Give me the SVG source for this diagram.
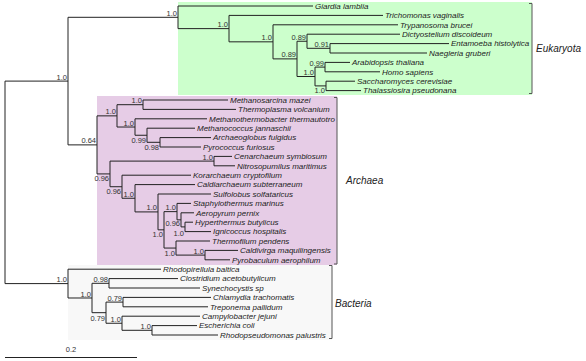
<svg xmlns="http://www.w3.org/2000/svg" width="586" height="361" viewBox="0 0 586 361">
<style>
.leaf{font-family:"Liberation Sans",Arial,sans-serif;font-size:8px;font-style:italic;fill:#222}
.sup{font-family:"Liberation Sans",Arial,sans-serif;font-size:7.5px;fill:#333;text-anchor:end}
.grp{font-family:"Liberation Sans",Arial,sans-serif;font-size:10px;font-style:italic;fill:#222}
.br{fill:none;stroke:#222;stroke-width:1}
.brk{fill:none;stroke:#555;stroke-width:1}
</style>
<rect width="586" height="361" fill="#fff"/>
<g id="clade-eukaryota">
<rect x="178" y="2" width="354" height="93" fill="#ccffcc"/>
<path class="brk" d="M529 3.5H532V93.5H529"/>
<text class="grp" x="536" y="52">Eukaryota</text>
</g>
<g id="clade-archaea">
<rect x="97" y="96" width="240" height="169" fill="#e6cce6"/>
<path class="brk" d="M334 97.5H337V264H334"/>
<text class="grp" x="346" y="184">Archaea</text>
</g>
<g id="clade-bacteria">
<rect x="68" y="265" width="264" height="75" fill="#f8f8f8"/>
<path class="brk" d="M329 265.5H332V338.5H329"/>
<text class="grp" x="335" y="307">Bacteria</text>
</g>
<g id="connectors" class="br">
<path d="M5 81.1V283.6M5 81.1H68M5 283.6H68"/>
<path d="M68 17.31V144.89M68 17.31H178M68 144.89H97"/>
<path d="M178 6V28.62M178 6H313M178 28.62H229"/>
<path d="M229 15.4V41.84M229 15.4H383M229 41.84H273"/>
<path d="M273 24.8V58.88M273 24.8H398M273 58.88H297"/>
<path d="M297 41.25V76.5M297 41.25H307M297 76.5H315"/>
<path d="M307 34.2V48.3M307 34.2H400M307 48.3H330"/>
<path d="M330 43.6V53M330 43.6H449M330 53H427"/>
<path d="M315 67.1V85.9M315 67.1H325M315 85.9H326"/>
<path d="M325 62.4V71.8M325 62.4H350M325 71.8H380"/>
<path d="M326 81.2V90.6M326 81.2H355M326 90.6H361"/>
<path d="M97 115.86V173.92M97 115.86H117M97 173.92H110"/>
<path d="M117 104.7V127.03M117 104.7H143M117 127.03H135"/>
<path d="M143 100V109.4M143 100H228M143 109.4H236"/>
<path d="M135 118.8V135.25M135 118.8H207M135 135.25H147"/>
<path d="M147 128.2V142.3M147 128.2H195M147 142.3H160"/>
<path d="M160 137.6V147M160 137.6H211M160 147H201"/>
<path d="M110 161.1V186.73M110 161.1H214M110 186.73H122"/>
<path d="M214 156.4V165.8M214 156.4H232M214 165.8H235"/>
<path d="M122 175.2V198.26M122 175.2H191M122 198.26H135"/>
<path d="M135 184.6V211.92M135 184.6H195M135 211.92H158"/>
<path d="M158 194V229.84M158 194H211M158 229.84H164"/>
<path d="M164 211.63V248.05M164 211.63H177M164 248.05H176"/>
<path d="M177 203.4V219.85M177 203.4H191M177 219.85H181"/>
<path d="M181 212.8V226.9M181 212.8H194M181 226.9H185"/>
<path d="M185 222.2V231.6M185 222.2H193M185 231.6H211"/>
<path d="M176 241V255.1M176 241H210M176 255.1H205"/>
<path d="M205 250.4V259.8M205 250.4H238M205 259.8H230"/>
<path d="M68 269.2V297.99M68 269.2H161M68 297.99H92"/>
<path d="M92 283.3V312.68M92 283.3H109M92 312.68H106"/>
<path d="M109 278.6V288M109 278.6H178M109 288H200"/>
<path d="M106 302.1V323.25M106 302.1H123M106 323.25H122"/>
<path d="M123 297.4V306.8M123 297.4H211M123 306.8H208"/>
<path d="M122 316.2V330.3M122 316.2H200M122 330.3H152"/>
<path d="M152 325.6V335M152 325.6H197M152 335H218"/>
</g>
<g id="support-values">
<text class="sup" x="67" y="79.6">1.0</text>
<text class="sup" x="67" y="282.1">1.0</text>
<text class="sup" x="177" y="15.8">1.0</text>
<text class="sup" x="96" y="143.4">0.64</text>
<text class="sup" x="228" y="27.1">1.0</text>
<text class="sup" x="272" y="40.3">1.0</text>
<text class="sup" x="296" y="57.4">0.89</text>
<text class="sup" x="306" y="39.8">0.89</text>
<text class="sup" x="329" y="46.8">0.91</text>
<text class="sup" x="324" y="65.6">0.99</text>
<text class="sup" x="314" y="75">1.0</text>
<text class="sup" x="325" y="92.8">1.0</text>
<text class="sup" x="116" y="114.4">1.0</text>
<text class="sup" x="142" y="103.2">1.0</text>
<text class="sup" x="134" y="125.5">1.0</text>
<text class="sup" x="146" y="142.8">0.99</text>
<text class="sup" x="159" y="149.8">0.98</text>
<text class="sup" x="213" y="159.6">1.0</text>
<text class="sup" x="109" y="181.4">0.96</text>
<text class="sup" x="121" y="194.2">0.96</text>
<text class="sup" x="134" y="196.8">1.0</text>
<text class="sup" x="157" y="210.4">1.0</text>
<text class="sup" x="163" y="237.3">1.0</text>
<text class="sup" x="176" y="210.1">1.0</text>
<text class="sup" x="180" y="226">0.96</text>
<text class="sup" x="184" y="236">1.0</text>
<text class="sup" x="175" y="255.5">1.0</text>
<text class="sup" x="204" y="253.6">1.0</text>
<text class="sup" x="108" y="281.8">0.98</text>
<text class="sup" x="91" y="296.5">1.0</text>
<text class="sup" x="105" y="320.5">0.79</text>
<text class="sup" x="122" y="300.6">0.79</text>
<text class="sup" x="121" y="321.8">1.0</text>
<text class="sup" x="151" y="328.8">1.0</text>
</g>
<g id="leaf-giardia"><text class="leaf" x="315" y="8.8">Giardia lamblia</text></g>
<g id="leaf-trichomonas"><text class="leaf" x="385" y="18.2">Trichomonas vaginalis</text></g>
<g id="leaf-trypanosoma"><text class="leaf" x="400" y="27.6">Trypanosoma brucei</text></g>
<g id="leaf-dictyostelium"><text class="leaf" x="402" y="37">Dictyostelium discoideum</text></g>
<g id="leaf-entamoeba"><text class="leaf" x="451" y="46.4">Entamoeba histolytica</text></g>
<g id="leaf-naegleria"><text class="leaf" x="429" y="55.8">Naegleria gruberi</text></g>
<g id="leaf-arabidopsis"><text class="leaf" x="352" y="65.2">Arabidopsis thaliana</text></g>
<g id="leaf-homo"><text class="leaf" x="382" y="74.6">Homo sapiens</text></g>
<g id="leaf-saccharomyces"><text class="leaf" x="357" y="84">Saccharomyces cerevisiae</text></g>
<g id="leaf-thalassiosira"><text class="leaf" x="363" y="93.4">Thalassiosira pseudonana</text></g>
<g id="leaf-methanosarcina"><text class="leaf" x="230" y="102.8">Methanosarcina mazei</text></g>
<g id="leaf-thermoplasma"><text class="leaf" x="238" y="112.2">Thermoplasma volcanium</text></g>
<g id="leaf-methanothermobacter"><text class="leaf" x="209" y="121.6">Methanothermobacter thermautotro</text></g>
<g id="leaf-methanococcus"><text class="leaf" x="197" y="131">Methanococcus jannaschii</text></g>
<g id="leaf-archaeoglobus"><text class="leaf" x="213" y="140.4">Archaeoglobus fulgidus</text></g>
<g id="leaf-pyrococcus"><text class="leaf" x="203" y="149.8">Pyrococcus furiosus</text></g>
<g id="leaf-cenarchaeum"><text class="leaf" x="234" y="159.2">Cenarchaeum symbiosum</text></g>
<g id="leaf-nitrosopumilus"><text class="leaf" x="237" y="168.6">Nitrosopumilus maritimus</text></g>
<g id="leaf-korarchaeum"><text class="leaf" x="193" y="178">Korarchaeum cryptofilum</text></g>
<g id="leaf-caldiarchaeum"><text class="leaf" x="197" y="187.4">Caldiarchaeum subterraneum</text></g>
<g id="leaf-sulfolobus"><text class="leaf" x="213" y="196.8">Sulfolobus solfataricus</text></g>
<g id="leaf-staphylothermus"><text class="leaf" x="193" y="206.2">Staphylothermus marinus</text></g>
<g id="leaf-aeropyrum"><text class="leaf" x="196" y="215.6">Aeropyrum pernix</text></g>
<g id="leaf-hyperthermus"><text class="leaf" x="195" y="225">Hyperthermus butylicus</text></g>
<g id="leaf-ignicoccus"><text class="leaf" x="213" y="234.4">Ignicoccus hospitalis</text></g>
<g id="leaf-thermofilum"><text class="leaf" x="212" y="243.8">Thermofilum pendens</text></g>
<g id="leaf-caldivirga"><text class="leaf" x="240" y="253.2">Caldivirga maquilingensis</text></g>
<g id="leaf-pyrobaculum"><text class="leaf" x="232" y="262.6">Pyrobaculum aerophilum</text></g>
<g id="leaf-rhodopirellula"><text class="leaf" x="163" y="272">Rhodopirellula baltica</text></g>
<g id="leaf-clostridium"><text class="leaf" x="180" y="281.4">Clostridium acetobutylicum</text></g>
<g id="leaf-synechocystis"><text class="leaf" x="202" y="290.8">Synechocystis sp</text></g>
<g id="leaf-chlamydia"><text class="leaf" x="213" y="300.2">Chlamydia trachomatis</text></g>
<g id="leaf-treponema"><text class="leaf" x="210" y="309.6">Treponema pallidum</text></g>
<g id="leaf-campylobacter"><text class="leaf" x="202" y="319">Campylobacter jejuni</text></g>
<g id="leaf-escherichia"><text class="leaf" x="199" y="328.4">Escherichia coli</text></g>
<g id="leaf-rhodopseudomonas"><text class="leaf" x="220" y="337.8">Rhodopseudomonas palustris</text></g>
<g id="scale-bar">
<path class="br" d="M5 357.5H137"/>
<text class="sup" x="71" y="352" style="text-anchor:middle">0.2</text>
</g>
</svg>
